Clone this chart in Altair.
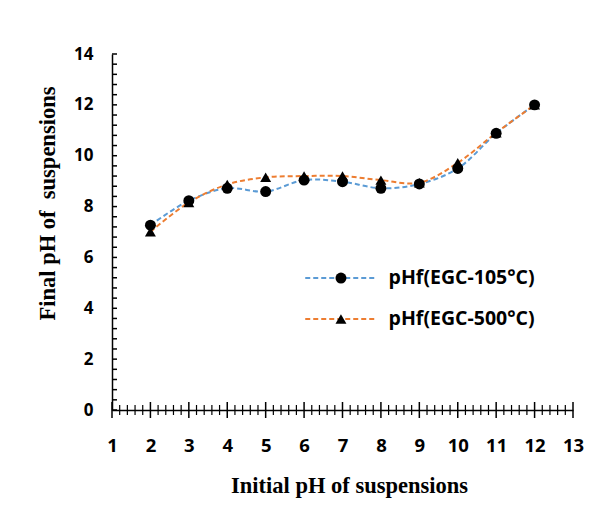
import altair as alt
import pandas as pd

# ---- data ----
initial_ph = [2, 3, 4, 5, 6, 7, 8, 9, 10, 11, 12]
ph_105 = [7.27, 8.23, 8.72, 8.59, 9.04, 8.98, 8.72, 8.89, 9.50, 10.88, 12.0]
ph_500 = [7.01, 8.16, 8.87, 9.15, 9.20, 9.20, 9.04, 8.94, 9.72, 10.90, 12.0]
series_names = ["pHf(EGC-105°C)", "pHf(EGC-500°C)"]
series_colors = ["#5B9BD5", "#ED7D31"]
series_shapes = ["circle", "triangle-up"]

x_labels = list(range(1, 14))
y_labels = [0, 2, 4, 6, 8, 10, 12, 14]
x_major_ticks = list(range(1, 14))
x_minor_ticks = [round(1 + i * 0.2, 1) for i in range(61) if i % 5 != 0]
y_ticks = [round(i * 0.4, 1) for i in range(36)]

# legend placement (data units)
legend_rows_y = [5.19, 3.58]

W, H = 461, 356

rows = []
for name, vals in zip(series_names, [ph_105, ph_500]):
    for x, y in zip(initial_ph, vals):
        rows.append({"x": x, "y": y, "series": name})
df = pd.DataFrame(rows)

leg = pd.DataFrame({
    "series": series_names,
    "y": legend_rows_y,
    "x0": [6.03, 6.03],
    "x1": [7.90, 7.90],
    "xm": [6.96, 6.96],
    "xt": [8.2, 8.2],
})

xscale = alt.Scale(domain=[1, 13], nice=False, zero=False)
yscale = alt.Scale(domain=[0, 14], nice=False)
color_scale = alt.Scale(domain=series_names, range=series_colors)
shape_scale = alt.Scale(domain=series_names, range=series_shapes)

xaxis = alt.Axis(
    values=x_labels, ticks=False, grid=False, domain=True,
    domainColor="black", domainWidth=1.5,
    labelFont="Open Sans", labelFontWeight="bold", labelFontSize=18.5,
    labelColor="black", labelPadding=26, labelFlush=False,
    title="Initial pH of suspensions", titleFont="Liberation Serif",
    titleFontWeight="bold", titleFontSize=22.5, titleColor="black",
    titleX=237, titleY=75, titleBaseline="middle", titleAlign="center",
)
yaxis = alt.Axis(
    values=y_labels, ticks=False, grid=False, domain=True,
    domainColor="black", domainWidth=1.5,
    labelFont="Open Sans", labelFontWeight="bold", labelFontSize=17,
    labelColor="black", labelPadding=19,
    title="Final pH of\u00a0 suspensions", titleFont="Liberation Serif",
    titleFontWeight="bold", titleFontSize=22.5, titleColor="black",
    titleX=-65, titleY=149, titleBaseline="middle", titleAlign="center",
    titleAngle=270,
)


def X(field):
    return alt.X(field, type="quantitative", scale=xscale, axis=xaxis)


def Y(field):
    return alt.Y(field, type="quantitative", scale=yscale, axis=yaxis)


base = alt.Chart(df)

lines = base.mark_line(strokeDash=[5, 3], strokeWidth=2, interpolate="catmull-rom").encode(
    x=X("x"), y=Y("y"),
    color=alt.Color("series:N", scale=color_scale, legend=None),
    detail="series:N",
)
points = base.mark_point(filled=True, color="black", opacity=1, size=120).encode(
    x=X("x"), y=Y("y"),
    shape=alt.Shape("series:N", scale=shape_scale, legend=None),
)

xmaj = alt.Chart(pd.DataFrame({"t": x_major_ticks})).mark_rule(color="black", strokeWidth=1.5).encode(
    x=X("t"), y=alt.value(H - 8), y2=alt.value(H + 8)
)
xmin = alt.Chart(pd.DataFrame({"t": x_minor_ticks})).mark_rule(color="black", strokeWidth=1.2).encode(
    x=X("t"), y=alt.value(H - 5), y2=alt.value(H + 5)
)
ytk = alt.Chart(pd.DataFrame({"t": y_ticks})).mark_rule(color="black", strokeWidth=1.5).encode(
    y=Y("t"), x=alt.value(0), x2=alt.value(5)
)

legbase = alt.Chart(leg)
leg_lines = legbase.mark_rule(strokeDash=[5, 3], strokeWidth=2).encode(
    x=X("x0"), x2="x1", y=Y("y"),
    color=alt.Color("series:N", scale=color_scale, legend=None),
)
leg_pts = legbase.mark_point(filled=True, color="black", opacity=1, size=120).encode(
    x=X("xm"), y=Y("y"),
    shape=alt.Shape("series:N", scale=shape_scale, legend=None),
)
leg_txt = legbase.mark_text(
    align="left", baseline="middle", font="Open Sans", fontWeight="bold",
    fontSize=19.5, color="black",
).encode(x=X("xt"), y=Y("y"), text="series:N")

chart = alt.layer(
    lines, points, xmaj, xmin, ytk, leg_lines, leg_pts, leg_txt
).properties(
    width=W, height=H,
    autosize=alt.AutoSizeParams(type="none"),
    padding={"left": 104, "top": 46, "right": 12, "bottom": 98},
).configure_view(stroke=None)

chart.save("out.html", embed_options={"renderer": "svg", "actions": False})
